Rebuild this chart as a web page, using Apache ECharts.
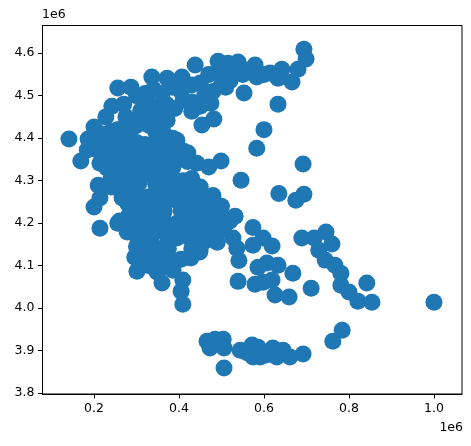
<!DOCTYPE html>
<html>
<head>
<meta charset="utf-8">
<style>html,body{margin:0;padding:0;background:#fff}#c{width:471px;height:446px}</style>
<script src="https://cdn.jsdelivr.net/npm/echarts@6/dist/echarts.min.js"></script>
</head>
<body>
<div id="c"></div>
<script>
// Point coordinates in units of 1e3, grouped by area
const northEdge = [[141,4398],[169,4346],[256,4518],[287,4520],[336,4544],[372,4541],[407,4544],[438,4572],[492,4581],[539,4579],[515,4576],[579,4572],[510,4520],[553,4506],[242,4475],[228,4450],[200,4426],[186,4398],[184,4372],[214,4341],[210,4289],[214,4259],[200,4238],[266,4259],[454,4431],[482,4445],[475,4482],[430,4463],[442,4341],[499,4346],[470,4332],[421,4365],[395,4395],[372,4442],[546,4301],[583,4376],[600,4420]];
const northEast = [[633,4480],[692,4339],[635,4270],[675,4254],[694,4268],[694,4609],[699,4586],[680,4562],[666,4532],[642,4562],[633,4541],[614,4553],[583,4544]];
const eastIslands = [[689,4165],[718,4165],[746,4179],[760,4151],[729,4136],[744,4113],[767,4101],[781,4082],[781,4054],[800,4038],[821,4016],[854,4014],[842,4059],[1000,4014],[711,4047],[668,4082],[659,4026],[626,4031],[633,4101],[607,4106],[619,4066],[598,4165],[619,4146],[574,4190],[574,4148],[579,4056],[598,4061],[586,4096]];
const southIslands = [[784,3948],[762,3922],[692,3892],[661,3885],[645,3901],[630,3885],[621,3906],[591,3885],[586,3908],[466,3922],[473,3906],[485,3927],[504,3927],[506,3906],[506,3859],[544,3901],[572,3913],[574,3885],[560,3895],[605,3890]];
const southWest = [[214,4188],[256,4200],[278,4179],[301,4087],[296,4120],[348,4085],[360,4059],[409,4009],[405,4040],[409,4066],[386,4089],[428,4118],[449,4132],[539,4063],[541,4112],[536,4141],[527,4165],[532,4216]];
const upperBand = [[300,4500],[320,4505],[340,4515],[360,4505],[385,4520],[405,4510],[430,4525],[450,4530],[470,4550],[490,4555],[510,4550],[530,4555],[550,4550],[560,4560],[600,4550],[520,4535],[500,4525],[330,4480],[350,4470],[370,4480],[390,4470],[410,4490],[430,4485],[450,4475],[270,4480],[310,4465],[480,4510],[460,4500],[320,4465],[275,4450],[310,4445]];
const midBlock = [[270,4425],[290,4425],[340,4440],[360,4440],[345,4415],[365,4410],[385,4400],[300,4390],[320,4385],[345,4390],[365,4385],[385,4375],[410,4370],[240,4415],[220,4410],[205,4395],[225,4385],[250,4395],[275,4395],[270,4375],[250,4375],[200,4375],[220,4360],[240,4350],[260,4350],[280,4355],[300,4360],[320,4360],[340,4365],[360,4360],[380,4350],[400,4350],[420,4345],[300,4430],[330,4430],[255,4420]];
const lowerBlock = [[230,4330],[255,4325],[280,4330],[300,4335],[320,4335],[345,4335],[365,4335],[385,4330],[240,4305],[260,4305],[280,4305],[300,4315],[325,4315],[345,4315],[365,4310],[385,4305],[410,4300],[430,4305],[450,4285],[430,4280],[410,4275],[390,4280],[370,4285],[350,4270],[330,4262],[300,4270],[280,4275],[260,4280],[240,4285],[310,4250],[340,4250],[360,4255],[390,4255],[420,4250],[440,4255],[460,4255],[480,4265],[500,4240],[480,4240],[460,4230],[440,4230],[420,4225],[305,4292],[345,4292],[280,4245]];
const southBlock = [[300,4230],[320,4230],[350,4215],[325,4210],[300,4210],[280,4215],[260,4205],[370,4200],[395,4200],[415,4205],[440,4210],[460,4210],[480,4210],[500,4215],[520,4205],[280,4195],[300,4190],[320,4190],[340,4190],[365,4180],[385,4180],[405,4180],[425,4185],[445,4185],[465,4185],[485,4180],[505,4185],[300,4170],[320,4170],[375,4160],[395,4165],[425,4165],[445,4160],[465,4160],[490,4155],[300,4145],[320,4150],[340,4140],[375,4140],[430,4140],[450,4140],[315,4125],[340,4115],[375,4115],[385,4095],[330,4100],[310,4105],[360,4095],[365,4228],[405,4230],[335,4165],[355,4140],[405,4115]];
const xTicks = [200000, 400000, 600000, 800000, 1000000];
const yTicks = [3800000, 3900000, 4000000, 4100000, 4200000, 4300000, 4400000, 4500000, 4600000];
const offsetLabel = '1e6';

const points = [].concat(northEdge, northEast, eastIslands, southIslands, southWest, upperBand, midBlock, lowerBlock, southBlock)
  .map(p => [p[0] * 1000, p[1] * 1000]);
const font = 'DejaVu Sans';
const axisCommon = {
  axisLine: { show: true, onZero: false, lineStyle: { color: '#000', width: 1 } },
  splitLine: { show: false }
};
const labelFmt = v => (v / 1e6).toFixed(1);
const chart = echarts.init(document.getElementById('c'), null, { renderer: 'canvas' });
chart.setOption({
  animation: false,
  backgroundColor: '#fff',
  grid: { left: 42.5, top: 25.5, width: 419.5, height: 368.5, show: true, borderColor: '#000', borderWidth: 1, backgroundColor: 'transparent' },
  xAxis: Object.assign({
    type: 'value', min: 78800, max: 1066000,
    axisTick: { show: true, length: 4.5, customValues: xTicks, lineStyle: { color: '#000', width: 1 } },
    axisLabel: { customValues: xTicks, formatter: labelFmt, color: '#000', fontFamily: font, fontSize: 12.5, margin: 8 }
  }, axisCommon),
  yAxis: Object.assign({
    type: 'value', min: 3798000, max: 4665000,
    axisTick: { show: true, length: 4.5, customValues: yTicks, lineStyle: { color: '#000', width: 1 } },
    axisLabel: { customValues: yTicks, formatter: labelFmt, color: '#000', fontFamily: font, fontSize: 12.5, margin: 8 }
  }, axisCommon),
  series: [{
    type: 'scatter', data: points, symbol: 'circle', symbolSize: 17,
    itemStyle: { color: '#1f77b4', opacity: 1, borderWidth: 0 }, silent: true, clip: true
  }],
  graphic: [
    { type: 'text', left: 42, top: 8, style: { text: offsetLabel, font: '12.5px "DejaVu Sans"', fill: '#000' } },
    { type: 'text', right: 8, top: 421, style: { text: offsetLabel, font: '12.5px "DejaVu Sans"', fill: '#000' } }
  ]
});
</script>
</body>
</html>
